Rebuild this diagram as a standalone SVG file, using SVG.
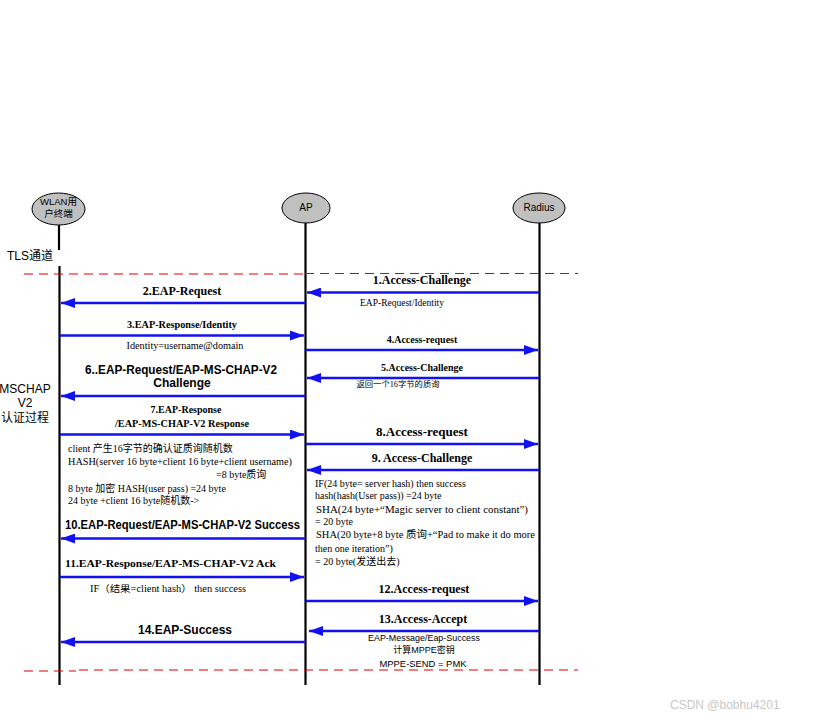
<svg xmlns="http://www.w3.org/2000/svg" width="819" height="721" viewBox="0 0 819 721">
<style>
.bg{fill:#fff}
.node ellipse{fill:#c0c0c0;stroke:#000;stroke-width:1}
.life{stroke:#000;stroke-width:2.2}
.msg{stroke:#1212f0;stroke-width:2.5;fill:none}
.tls{stroke:#e00000;stroke-width:1.2;stroke-dasharray:9 6;fill:none}
.t{font-family:"Liberation Serif","Noto Sans CJK SC",serif;fill:#000}
.b{font-weight:bold}
.s{font-family:"Liberation Sans","Noto Sans CJK SC",sans-serif}
.c{text-anchor:middle}
</style>
<defs>
<marker id="ah" viewBox="0 0 14 10" refX="14" refY="5" markerWidth="14" markerHeight="10" markerUnits="userSpaceOnUse" orient="auto">
<path d="M0,0 L14,5 L0,10 Z" fill="#1212f0"/>
</marker>
</defs>
<rect class="bg" x="0" y="0" width="819" height="721"/>

<g id="node-wlan" class="node">
<ellipse cx="58.5" cy="209" rx="26.5" ry="16"/>
<text class="t s c" x="58.5" y="205" font-size="9.5">WLAN用</text>
<text class="t s c" x="58.5" y="217" font-size="9.5">户终端</text>
<line class="life" x1="59" y1="225" x2="59" y2="250"/>
<line class="life" x1="59.5" y1="266" x2="59.5" y2="685"/>
</g>
<g id="node-ap" class="node">
<ellipse cx="306" cy="208" rx="24" ry="15"/>
<text class="t s c" x="306" y="211" font-size="10">AP</text>
<line class="life" x1="305.5" y1="223" x2="305.5" y2="685"/>
</g>
<g id="node-radius" class="node">
<ellipse cx="539" cy="208" rx="26" ry="15"/>
<text class="t s c" x="539" y="211" font-size="10">Radius</text>
<line class="life" x1="539.5" y1="223" x2="539.5" y2="685"/>
</g>

<g id="side-labels">
<text class="t s" x="7" y="260" font-size="12">TLS通道</text>
<text class="t s c" x="25" y="393" font-size="12">MSCHAP</text>
<text class="t s c" x="25" y="407" font-size="12">V2</text>
<text class="t s c" x="25" y="422" font-size="12">认证过程</text>
</g>

<g id="separators">
<line class="tls" x1="24" y1="274" x2="305" y2="274"/>
<line class="tls" x1="305" y1="273.5" x2="578" y2="273.5" stroke-width="0.9"/>
<line class="tls" x1="24" y1="671" x2="76" y2="671" stroke="#888"/>
<line class="tls" x1="79" y1="670" x2="578" y2="670"/>
</g>

<g id="connectors">
<line class="msg" x1="539" y1="292.5" x2="307" y2="292.5" marker-end="url(#ah)"/>
<line class="msg" x1="305" y1="303" x2="61" y2="303" marker-end="url(#ah)"/>
<line class="msg" x1="60" y1="335.5" x2="304" y2="335.5" marker-end="url(#ah)"/>
<line class="msg" x1="306" y1="350" x2="538" y2="350" marker-end="url(#ah)"/>
<line class="msg" x1="539" y1="378" x2="307" y2="378" marker-end="url(#ah)"/>
<line class="msg" x1="305" y1="396" x2="61" y2="396" marker-end="url(#ah)"/>
<line class="msg" x1="60" y1="434.5" x2="304" y2="434.5" marker-end="url(#ah)"/>
<line class="msg" x1="306" y1="444" x2="538" y2="444" marker-end="url(#ah)"/>
<line class="msg" x1="539" y1="470" x2="307" y2="470" marker-end="url(#ah)"/>
<line class="msg" x1="305" y1="538.5" x2="61" y2="538.5" marker-end="url(#ah)"/>
<line class="msg" x1="60" y1="577" x2="304" y2="577" marker-end="url(#ah)"/>
<line class="msg" x1="306" y1="601" x2="538" y2="601" marker-end="url(#ah)"/>
<line class="msg" x1="539" y1="631" x2="309" y2="631" marker-end="url(#ah)"/>
<line class="msg" x1="305" y1="642" x2="61" y2="642" marker-end="url(#ah)"/>
</g>

<g id="labels">
<text class="t b c" x="422" y="284" font-size="12">1.Access-Challenge</text>
<text class="t c" x="402" y="306" font-size="9.5">EAP-Request/Identity</text>
<text class="t b c" x="182" y="295" font-size="12">2.EAP-Request</text>
<text class="t b c" x="182" y="328" font-size="10" textLength="110" lengthAdjust="spacingAndGlyphs">3.EAP-Response/Identity</text>
<text class="t c" x="185" y="349" font-size="9.5" textLength="117" lengthAdjust="spacingAndGlyphs">Identity=username@domain</text>
<text class="t b c" x="422" y="343" font-size="10">4.Access-request</text>
<text class="t b c" x="422" y="371" font-size="10">5.Access-Challenge</text>
<text class="t c" x="398" y="387" font-size="8" font-family="Noto Sans CJK SC,sans-serif" textLength="83" lengthAdjust="spacingAndGlyphs">返回一个16字节的质询</text>
<text class="t s b c" x="181" y="374" font-size="12" textLength="192" lengthAdjust="spacingAndGlyphs">6..EAP-Request/EAP-MS-CHAP-V2</text>
<text class="t s b c" x="182" y="387" font-size="12">Challenge</text>
<text class="t b c" x="186" y="413" font-size="10">7.EAP-Response</text>
<text class="t b c" x="182" y="427" font-size="10" textLength="134" lengthAdjust="spacingAndGlyphs">/EAP-MS-CHAP-V2 Response</text>
<text class="t b c" x="422" y="436" font-size="13">8.Access-request</text>
<text class="t b c" x="422" y="462" font-size="12">9. Access-Challenge</text>
<text class="t" x="68" y="452" font-size="10">client 产生16字节的确认证质询随机数</text>
<text class="t" x="68" y="465" font-size="10" textLength="224" lengthAdjust="spacingAndGlyphs">HASH(server 16 byte+client 16 byte+client username)</text>
<text class="t" x="216" y="478" font-size="10">=8 byte质询</text>
<text class="t" x="68" y="492" font-size="10">8 byte 加密 HASH(user pass) =24 byte</text>
<text class="t" x="68" y="504" font-size="10">24 byte +client 16 byte随机数-&gt;</text>
<text class="t" x="315" y="487" font-size="10">IF(24 byte= server hash) then  success</text>
<text class="t" x="315" y="499" font-size="10">hash(hash(User pass)) =24 byte</text>
<text class="t" x="316" y="513" font-size="10" textLength="212" lengthAdjust="spacingAndGlyphs">SHA(24 byte+“Magic server to client constant”)</text>
<text class="t" x="315" y="525" font-size="10">= 20 byte</text>
<text class="t" x="316" y="538" font-size="10" textLength="219" lengthAdjust="spacingAndGlyphs">SHA(20 byte+8 byte 质询+“Pad to make it do more</text>
<text class="t" x="315" y="552" font-size="10">then one iteration”)</text>
<text class="t" x="315" y="565" font-size="10">= 20 byte(发送出去)</text>
<text class="t s b" x="65" y="529" font-size="12" textLength="235" lengthAdjust="spacingAndGlyphs">10.EAP-Request/EAP-MS-CHAP-V2 Success</text>
<text class="t b" x="65" y="567" font-size="10" textLength="211" lengthAdjust="spacingAndGlyphs">11.EAP-Response/EAP-MS-CHAP-V2 Ack</text>
<text class="t" x="90" y="592" font-size="9.5" textLength="156" lengthAdjust="spacingAndGlyphs">IF（结果=client hash） then  success</text>
<text class="t b c" x="424" y="593" font-size="12">12.Access-request</text>
<text class="t b c" x="423" y="623" font-size="12">13.Access-Accept</text>
<text class="t s c" x="424" y="641" font-size="9" textLength="112" lengthAdjust="spacingAndGlyphs">EAP-Message/Eap-Success</text>
<text class="t s c" x="424" y="653" font-size="9">计算MPPE密钥</text>
<text class="t s c" x="423" y="667" font-size="9" textLength="87" lengthAdjust="spacingAndGlyphs">MPPE-SEND = PMK</text>
<text class="t s b c" x="185" y="634" font-size="12">14.EAP-Success</text>
</g>

<text class="s" x="670" y="709" font-size="12" fill="#c8c8c8">CSDN @bobhu4201</text>
</svg>
